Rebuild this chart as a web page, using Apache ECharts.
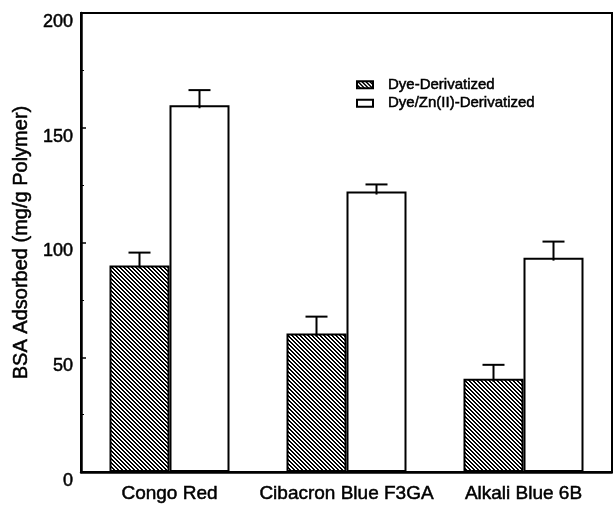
<!DOCTYPE html>
<html>
<head>
<meta charset="utf-8">
<script src="https://cdn.jsdelivr.net/npm/echarts@6/dist/echarts.min.js"></script>
<style>
  html, body { margin: 0; padding: 0; background: #fff; }
  #chart { width: 613px; height: 506px; }
</style>
</head>
<body>
<div id="chart"></div>
<script>
// BSA adsorption on dye-derivatized polymers
const categories = ['Congo Red', 'Cibacron Blue F3GA', 'Alkali Blue 6B'];
const seriesNames = ['Dye-Derivatized', 'Dye/Zn(II)-Derivatized'];
const dyeValues = [90, 60.3, 40.6];
const dyeErrors = [5.6, 7.4, 6.1];
const zincValues = [159.8, 122.2, 93.4];
const zincErrors = [6.6, 3.1, 7.0];
const yTicks = { min: 0, max: 200, interval: 50 };

const FONT = 'Liberation Sans, Arial, Helvetica, sans-serif';
const BAR_WIDTH = 60;
// slightly heavier strokes on the text
const INK = { color: '#000', textBorderColor: '#000', textBorderWidth: 0.5 };

// diagonal "\" hatching tile
function hatchPattern() {
  const c = document.createElement('canvas');
  c.width = 4; c.height = 4;
  const g = c.getContext('2d');
  g.fillStyle = '#fff';
  g.fillRect(0, 0, 4, 4);
  g.fillStyle = '#000';
  for (let i = 0; i < 4; i++) {
    g.fillRect(i, i, 1, 1);
    g.fillRect((i + 1) % 4, i, 1, 1);
  }
  return c;
}
const hatch = { image: hatchPattern(), repeat: 'repeat' };

// upper error whiskers, placed over the left or right bar of each group
function errorSeries(values, errors, side) {
  return {
    type: 'custom',
    z: 10,
    silent: true,
    data: values.map((v, i) => [i, v, errors[i]]),
    encode: { x: 0, y: 1 },
    renderItem: function (params, api) {
      const idx = api.value(0);
      const v = api.value(1);
      const e = api.value(2);
      const x = api.coord([idx, 0])[0] + side * BAR_WIDTH / 2;
      const yBase = api.coord([idx, v])[1];
      const yTop = api.coord([idx, v + e])[1];
      const style = { stroke: '#000', lineWidth: 2 };
      return {
        type: 'group',
        children: [
          { type: 'line', shape: { x1: x, y1: yBase + 3, x2: x, y2: yTop }, style: style },
          { type: 'line', shape: { x1: x - 11, y1: yTop, x2: x + 11, y2: yTop }, style: style }
        ]
      };
    }
  };
}

const chart = echarts.init(document.getElementById('chart'), null, { renderer: 'canvas' });
chart.setOption({
  animation: false,
  backgroundColor: '#fff',
  textStyle: { fontFamily: FONT, color: '#000' },
  grid: {
    left: 81, right: 1, top: 13, bottom: 34,
    show: true, borderColor: '#000', borderWidth: 2, backgroundColor: 'transparent'
  },
  legend: {
    orient: 'vertical',
    left: 351, top: 72,
    itemWidth: 16, itemHeight: 7, itemGap: 3,
    icon: 'rect',
    textStyle: Object.assign({ fontFamily: FONT, fontSize: 15, padding: [0, 0, 0, 10] }, INK),
    data: seriesNames
  },
  xAxis: {
    type: 'category',
    data: categories,
    axisLine: { lineStyle: { color: '#000', width: 2.5 } },
    axisTick: { show: false },
    axisLabel: Object.assign({ interval: 0, fontFamily: FONT, fontSize: 19, margin: 12 }, INK)
  },
  yAxis: {
    type: 'value',
    min: yTicks.min, max: yTicks.max, interval: yTicks.interval,
    name: 'BSA Adsorbed (mg/g Polymer)',
    nameLocation: 'middle',
    nameGap: 47,
    nameTextStyle: Object.assign({ fontFamily: FONT, fontSize: 20 }, INK),
    axisLine: { show: true, lineStyle: { color: '#000', width: 2.5 } },
    axisTick: { show: true, inside: true, length: 5, lineStyle: { color: '#000', width: 1.5 } },
    minorTick: { show: true, splitNumber: 2, length: 3, lineStyle: { color: '#000', width: 1 } },
    splitLine: { show: false },
    axisLabel: Object.assign({ fontFamily: FONT, fontSize: 18, margin: 8, verticalAlign: 'top' }, INK)
  },
  series: [
    {
      name: seriesNames[0],
      type: 'bar',
      data: dyeValues,
      barWidth: BAR_WIDTH,
      barGap: '0%',
      itemStyle: { color: hatch, borderColor: '#000', borderWidth: 2 }
    },
    {
      name: seriesNames[1],
      type: 'bar',
      data: zincValues,
      barWidth: BAR_WIDTH,
      barGap: '0%',
      itemStyle: { color: '#fff', borderColor: '#000', borderWidth: 2 }
    },
    errorSeries(dyeValues, dyeErrors, -1),
    errorSeries(zincValues, zincErrors, 1)
  ]
});
</script>
</body>
</html>
